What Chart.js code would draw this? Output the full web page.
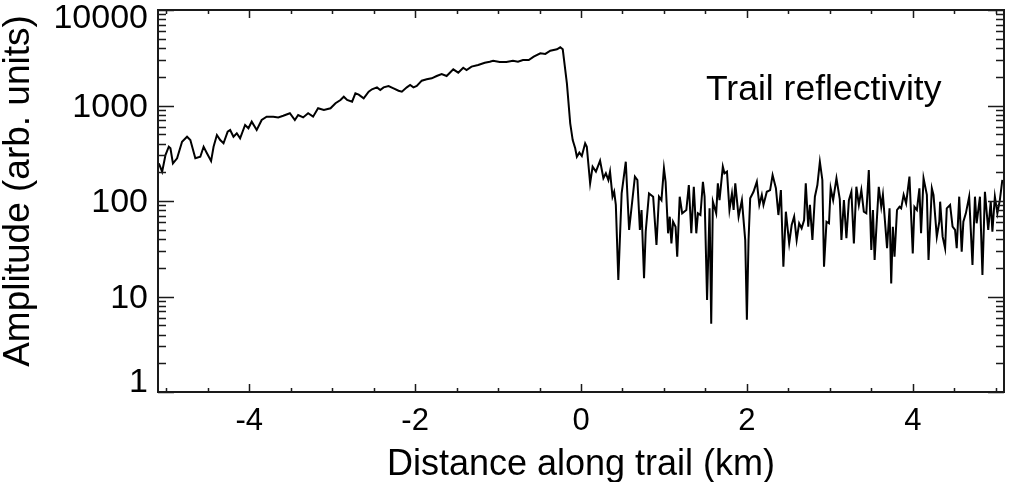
<!DOCTYPE html>
<html>
<head>
<meta charset="utf-8">
<script src="https://cdn.jsdelivr.net/npm/chart.js@4"></script>
<style>
  html, body { margin: 0; padding: 0; background: #fff; }
  #wrap { width: 1016px; height: 482px; }
</style>
</head>
<body>
<div id="wrap"><canvas id="myChart" width="1016" height="482"></canvas></div>
<script>
// values
const distanceKm = [
  -5.09, -5.05, -5.01, -4.97, -4.95, -4.92, -4.87, -4.81, -4.75, -4.71,
  -4.65, -4.59, -4.55, -4.51, -4.46, -4.43, -4.39, -4.35, -4.31, -4.26,
  -4.23, -4.19, -4.15, -4.11, -4.05, -4.01, -3.97, -3.91, -3.85, -3.79,
  -3.71, -3.65, -3.59, -3.51, -3.45, -3.41, -3.35, -3.29, -3.23, -3.17,
  -3.10, -3.02, -2.96, -2.90, -2.86, -2.82, -2.76, -2.72, -2.68, -2.62,
  -2.56, -2.52, -2.46, -2.42, -2.38, -2.32, -2.26, -2.20, -2.16, -2.10,
  -2.06, -2.02, -1.98, -1.92, -1.86, -1.80, -1.74, -1.68, -1.62, -1.54,
  -1.48, -1.42, -1.38, -1.32, -1.24, -1.16, -1.10, -1.06, -0.98, -0.90,
  -0.82, -0.76, -0.70, -0.63, -0.57, -0.49, -0.43, -0.37, -0.29, -0.25,
  -0.22, -0.17, -0.13, -0.10, -0.07, -0.05, -0.02, 0.01, 0.05, 0.07,
  0.11, 0.14, 0.18, 0.23, 0.27, 0.30, 0.33, 0.35, 0.38, 0.40,
  0.42, 0.45, 0.49, 0.54, 0.58, 0.65, 0.68, 0.71, 0.73, 0.76,
  0.78, 0.82, 0.87, 0.91, 0.94, 0.97, 1.00, 1.02, 1.05, 1.07,
  1.09, 1.11, 1.14, 1.16, 1.19, 1.22, 1.27, 1.30, 1.33, 1.36,
  1.39, 1.41, 1.44, 1.47, 1.49, 1.52, 1.55, 1.57, 1.59, 1.63,
  1.65, 1.67, 1.71, 1.73, 1.76, 1.79, 1.82, 1.84, 1.86, 1.90,
  1.94, 1.98, 2.00, 2.02, 2.04, 2.08, 2.12, 2.15, 2.18, 2.20,
  2.24, 2.28, 2.31, 2.35, 2.38, 2.41, 2.44, 2.47, 2.51, 2.54,
  2.57, 2.60, 2.63, 2.66, 2.69, 2.71, 2.74, 2.76, 2.79, 2.82,
  2.85, 2.88, 2.91, 2.93, 2.96, 2.99, 3.01, 3.04, 3.08, 3.12,
  3.14, 3.17, 3.20, 3.23, 3.26, 3.29, 3.32, 3.35, 3.38, 3.41,
  3.44, 3.47, 3.50, 3.52, 3.54, 3.56, 3.59, 3.62, 3.64, 3.67,
  3.69, 3.72, 3.74, 3.76, 3.78, 3.81, 3.84, 3.86, 3.89, 3.92,
  3.96, 4.00, 4.02, 4.05, 4.08, 4.10, 4.13, 4.17, 4.19, 4.23,
  4.25, 4.29, 4.32, 4.33, 4.36, 4.39, 4.41, 4.45, 4.48, 4.51,
  4.53, 4.56, 4.59, 4.61, 4.64, 4.68, 4.72, 4.75, 4.77, 4.81,
  4.84, 4.87, 4.91, 4.94, 4.96, 4.99, 5.02, 5.05, 5.08
];
const amplitude = [
  248, 203, 303, 370, 356, 248, 280, 418, 471, 435,
  280, 291, 370, 316, 262, 370, 491, 435, 402, 532,
  554, 471, 512, 453, 625, 577, 677, 554, 705, 764,
  764, 750, 780, 829, 705, 795, 750, 829, 764, 935,
  897, 935, 1055, 1142, 1237, 1142, 1097, 1343, 1300, 1189,
  1396, 1479, 1549, 1452, 1549, 1600, 1514, 1429, 1396, 1549,
  1640, 1549, 1600, 1820, 1880, 1927, 2037, 2138, 2037, 2393,
  2206, 2489, 2353, 2553, 2655, 2805, 2875, 2944, 2852, 2852,
  2944, 2875, 2994, 2994, 3244, 3521, 3470, 3750, 3874, 4066,
  3874, 1708, 651, 435, 356, 291, 321, 296, 402, 370,
  153, 229, 203, 264, 173, 195, 166, 203, 111, 125,
  91, 14.9, 120, 258, 49.7, 180, 166, 49.7, 80.5, 15.5,
  47.7, 120, 111, 34.6, 111, 102, 220, 159, 45.9, 68.5,
  36, 60.7, 53.8, 26.1, 111, 74.3, 80.5, 147, 45.9, 141,
  45.9, 74.3, 71.3, 159, 111, 9.2, 83.8, 5.2, 98.4, 74.3,
  153, 102, 229, 195, 203, 80.5, 120, 80.5, 153, 68.5,
  102, 39, 5.7, 39, 107, 125, 159, 91, 116, 91,
  125, 130, 187, 136, 71.3, 130, 20.5, 77.3, 36, 56,
  68.5, 39, 58.4, 51.8, 63.2, 153, 53.8, 91, 39, 111,
  147, 258, 166, 20.5, 60.7, 58.4, 136, 102, 173, 105,
  39, 102, 40.7, 102, 125, 36, 141, 91, 130, 77.3,
  74.3, 211, 30.7, 80.5, 24.1, 49.7, 141, 87, 116, 53.8,
  32, 83.8, 13.7, 53.8, 26.1, 80.5, 87, 83.8, 116, 94.6,
  180, 28.3, 87, 80.5, 136, 45.9, 173, 116, 24.1, 136,
  116, 42.3, 60.7, 98.4, 42.3, 32, 83.8, 91, 53.8, 49.7,
  32, 111, 29.5, 60.7, 74.3, 111, 21.4, 111, 58.4, 111,
  16.8, 125, 49.7, 98.4, 47.7, 111, 74.3, 102, 166
];
const xTickValues = [-4, -2, 0, 2, 4];
const yTickValues = [1, 10, 100, 1000, 10000];

const FONT = "'Liberation Sans', Arial, Helvetica, sans-serif";

// box, inward ticks on all four sides and the labels (IDL look)
const frameAndTicks = {
  id: 'frameAndTicks',
  afterDatasetsDraw(chart) {
    const { ctx, chartArea: a, scales: { x, y } } = chart;
    ctx.save();
    ctx.strokeStyle = '#1a1a1a';
    ctx.lineWidth = 1.5;
    ctx.beginPath();
    for (let k = -10; k <= 10; k++) {
      const px = Math.round(x.getPixelForValue(k / 2)) + 0.5;
      if (px < a.left || px > a.right) continue;
      const len = (k % 4 === 0) ? 8 : 4;
      ctx.moveTo(px, a.bottom); ctx.lineTo(px, a.bottom - len);
      ctx.moveTo(px, a.top); ctx.lineTo(px, a.top + len);
    }
    for (let d = 0; d <= 4; d++) {
      for (let m = 1; m <= 9; m++) {
        const v = m * Math.pow(10, d);
        if (v > 10000) break;
        const py = Math.round(y.getPixelForValue(v)) + 0.5;
        const len = m === 1 ? 16 : 8;
        ctx.moveTo(a.left, py); ctx.lineTo(a.left + len, py);
        ctx.moveTo(a.right, py); ctx.lineTo(a.right - len, py);
      }
    }
    ctx.stroke();
    ctx.lineWidth = 2;
    ctx.strokeRect(a.left, a.top, a.right - a.left, a.bottom - a.top);

    ctx.fillStyle = '#000';

    // x tick labels
    ctx.font = '31px ' + FONT;
    ctx.textAlign = 'center';
    ctx.textBaseline = 'alphabetic';
    xTickValues.forEach(v => ctx.fillText(String(v), x.getPixelForValue(v), 430));

    // y tick labels, kept inside the box height like IDL does
    ctx.font = '34px ' + FONT;
    ctx.textAlign = 'right';
    ctx.textBaseline = 'middle';
    yTickValues.forEach(v => {
      let cy = y.getPixelForValue(v) + 2;
      cy = Math.min(Math.max(cy, a.top + 9), a.bottom - 9);
      ctx.fillText(String(v), a.left - 10, cy);
    });

    // axis titles
    ctx.font = '36px ' + FONT;
    ctx.textAlign = 'center';
    ctx.textBaseline = 'alphabetic';
    ctx.fillText('Distance along trail (km)', (a.left + a.right) / 2, 475);

    ctx.save();
    ctx.translate(29, 191);
    ctx.rotate(-Math.PI / 2);
    ctx.font = '37px ' + FONT;
    ctx.fillText('Amplitude (arb. units)', 0, 0);
    ctx.restore();

    // annotation
    ctx.font = '35.5px ' + FONT;
    ctx.textAlign = 'left';
    ctx.fillText('Trail reflectivity', 706, 100);
    ctx.restore();
  }
};

document.addEventListener('DOMContentLoaded', function() {
  if (typeof Chart === 'undefined') {
    console.error('Chart.js is not loaded');
    return;
  }
  const points = distanceKm.map((d, i) => ({ x: d, y: amplitude[i] }));

  new Chart(document.getElementById('myChart'), {
    type: 'line',
    data: {
      datasets: [{
        label: 'Trail reflectivity',
        data: points,
        borderColor: '#000',
        borderWidth: 2,
        pointRadius: 0,
        tension: 0,
        fill: false
      }]
    },
    options: {
      responsive: false,
      animation: false,
      layout: { padding: { left: 0, right: 12, top: 10, bottom: 0 } },
      plugins: { legend: { display: false }, tooltip: { enabled: false } },
      scales: {
        x: {
          type: 'linear',
          min: -5.1,
          max: 5.1,
          grid: { display: false },
          border: { display: false },
          ticks: { display: false },
          afterBuildTicks: s => { s.ticks = xTickValues.map(v => ({ value: v })); },
          afterFit: s => { s.height = 90; s.paddingLeft = 0; s.paddingRight = 0; }
        },
        y: {
          type: 'logarithmic',
          min: 1,
          max: 10000,
          grid: { display: false },
          border: { display: false },
          ticks: { display: false },
          afterBuildTicks: s => { s.ticks = yTickValues.map(v => ({ value: v })); },
          afterFit: s => { s.width = 158; s.paddingTop = 0; s.paddingBottom = 0; }
        }
      }
    },
    plugins: [frameAndTicks]
  });
});
</script>
</body>
</html>
